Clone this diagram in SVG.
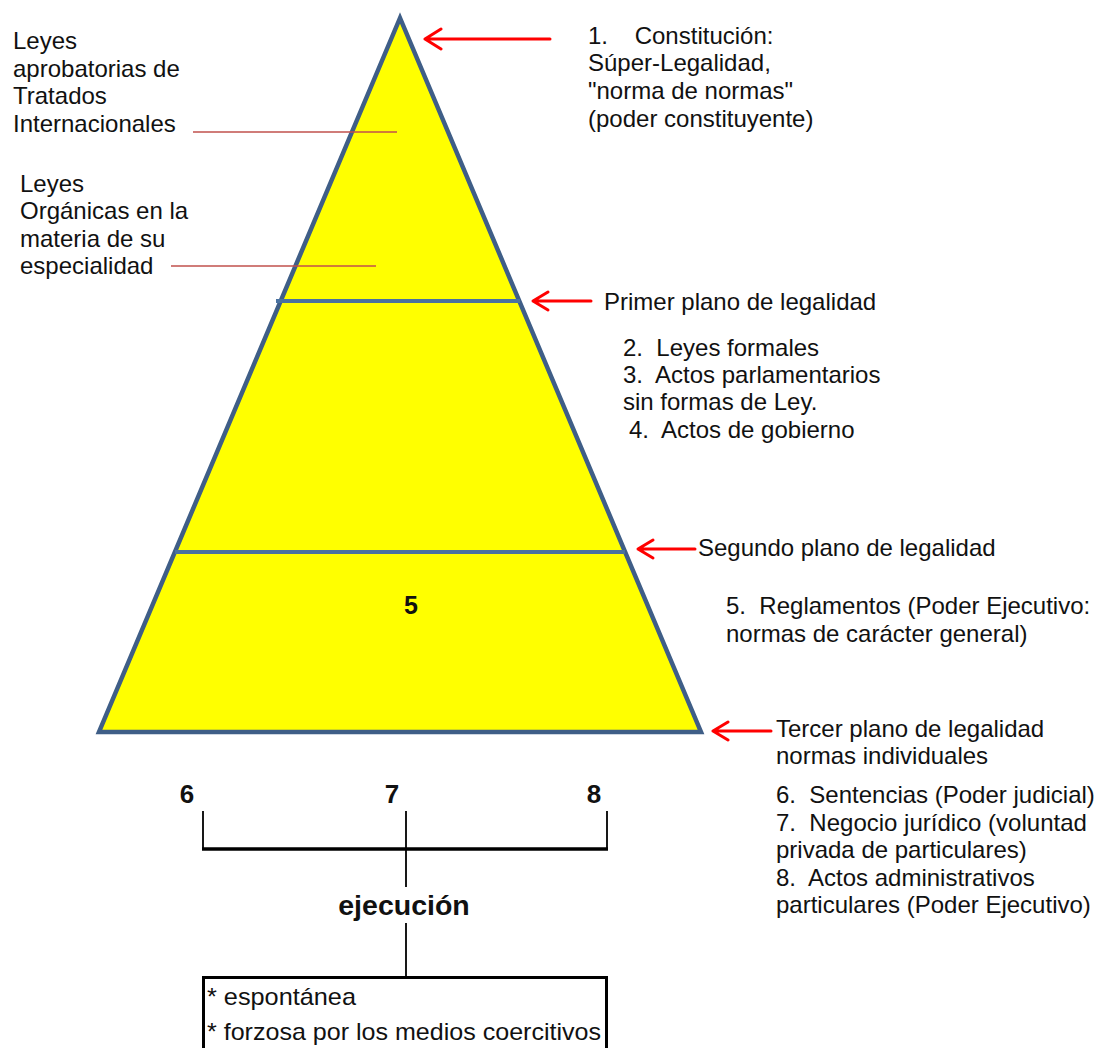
<svg xmlns="http://www.w3.org/2000/svg" width="1099" height="1048" viewBox="0 0 1099 1048">
<style>
text{font-family:"Liberation Sans",Arial,sans-serif;font-size:24px;fill:#111}
.b{font-weight:bold}
.n{font-size:26px}
.arrow{stroke:#ff0000;stroke-width:3;fill:none;stroke-linecap:round;stroke-linejoin:round}
.lead{stroke:#c0504d;stroke-width:1.5;fill:none}
.blk{stroke:#000;fill:none}
</style>
<rect width="1099" height="1048" fill="#fff"/>
<g id="pyramid">
<polygon points="400,18 99,732 701,732" fill="#ffff00" stroke="#3f5e87" stroke-width="4.5" stroke-linejoin="miter"/>
<line x1="276" y1="301" x2="520" y2="301" stroke="#4a72a0" stroke-width="4"/>
<line x1="175" y1="552" x2="625" y2="552" stroke="#4a72a0" stroke-width="4"/>
<text class="b" x="411" y="614" text-anchor="middle" style="font-size:25px">5</text>
</g>
<g id="connectors">
<path class="arrow" d="M550 39H425M441 29L425 39L441 49"/>
<path class="arrow" d="M591 301H533M548 292L533 301L548 310"/>
<path class="arrow" d="M695 549H638M653 540L638 549L653 558"/>
<path class="arrow" d="M771 731H713M728 722L713 731L728 740"/>
<line class="lead" x1="193" y1="132" x2="397" y2="132"/>
<line class="lead" x1="171" y1="266" x2="376" y2="266"/>
<path class="blk" stroke-width="1.8" d="M203 811V849M406 811V887M607 811V849M406 923V976"/>
<line class="blk" stroke-width="3.5" x1="202" y1="849" x2="608" y2="849"/>
</g>
<g id="label-tratados">
<text x="13" y="49">Leyes</text>
<text x="13" y="77">aprobatorias de</text>
<text x="13" y="104">Tratados</text>
<text x="13" y="132">Internacionales</text>
</g>
<g id="label-organicas">
<text x="20" y="192">Leyes</text>
<text x="20" y="219">Orgánicas en la</text>
<text x="20" y="247">materia de su</text>
<text x="20" y="274">especialidad</text>
</g>
<g id="label-constitucion">
<text x="588" y="44" xml:space="preserve">1.    Constitución:</text>
<text x="588" y="71">Súper-Legalidad,</text>
<text x="588" y="99">"norma de normas"</text>
<text x="588" y="127">(poder constituyente)</text>
</g>
<g id="label-primer">
<text x="604" y="310">Primer plano de legalidad</text>
</g>
<g id="label-leyes">
<text x="623" y="356" xml:space="preserve">2.  Leyes formales</text>
<text x="623" y="383" xml:space="preserve">3.  Actos parlamentarios</text>
<text x="623" y="410">sin formas de Ley.</text>
<text x="629" y="438" xml:space="preserve">4.  Actos de gobierno</text>
</g>
<g id="label-segundo">
<text x="698" y="556">Segundo plano de legalidad</text>
</g>
<g id="label-reglamentos">
<text x="726" y="614" xml:space="preserve">5.  Reglamentos (Poder Ejecutivo:</text>
<text x="726" y="642">normas de carácter general)</text>
</g>
<g id="label-tercer">
<text x="776" y="737">Tercer plano de legalidad</text>
<text x="776" y="764">normas individuales</text>
</g>
<g id="label-individuales">
<text x="776" y="803" xml:space="preserve">6.  Sentencias (Poder judicial)</text>
<text x="776" y="831" xml:space="preserve">7.  Negocio jurídico (voluntad</text>
<text x="776" y="858">privada de particulares)</text>
<text x="776" y="886" xml:space="preserve">8.  Actos administrativos</text>
<text x="776" y="913">particulares (Poder Ejecutivo)</text>
</g>
<g id="numbers">
<text class="b n" x="187" y="803" text-anchor="middle">6</text>
<text class="b n" x="392" y="803" text-anchor="middle">7</text>
<text class="b n" x="594" y="803" text-anchor="middle">8</text>
</g>
<g id="ejecucion">
<text class="b" x="404" y="915" text-anchor="middle" style="font-size:28.5px">ejecución</text>
</g>
<g id="box">
<rect x="203.5" y="977.5" width="403" height="90" fill="#fff" stroke="#000" stroke-width="3"/>
<text x="207" y="1005" xml:space="preserve" textLength="149" lengthAdjust="spacingAndGlyphs">* espontánea</text>
<text x="207" y="1040" xml:space="preserve" textLength="394" lengthAdjust="spacingAndGlyphs">* forzosa por los medios coercitivos</text>
</g>
</svg>
